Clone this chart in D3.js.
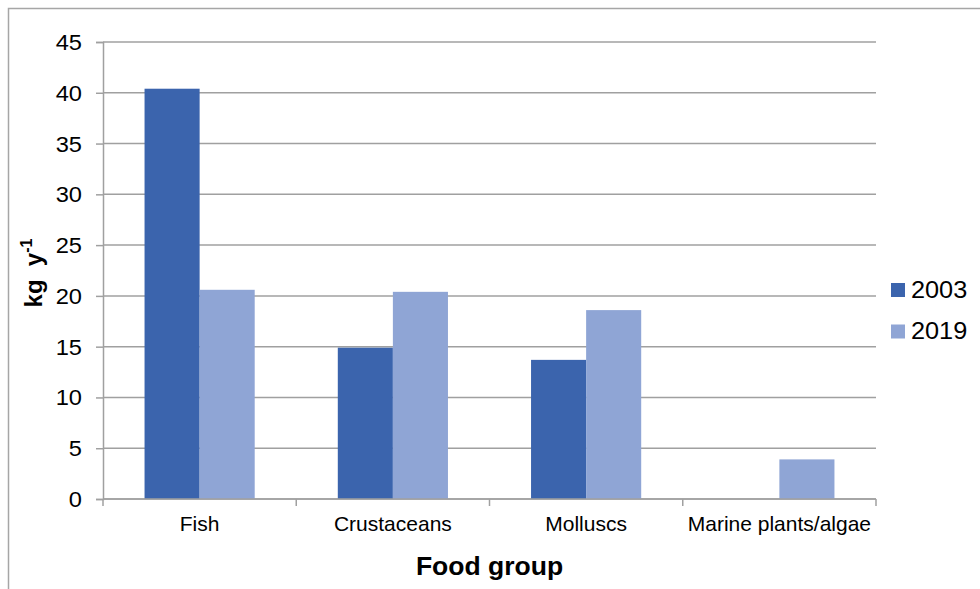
<!DOCTYPE html>
<html>
<head>
<meta charset="utf-8">
<script src="https://cdn.jsdelivr.net/npm/d3@7"></script>
<style>
  html, body { margin: 0; padding: 0; background: #fff; }
  svg { display: block; font-family: "Liberation Sans", Arial, sans-serif; }
</style>
</head>
<body>
<svg id="chart" width="980" height="589"></svg>
<script>
// Per-capita consumption by food group (kg per year)
const categories = ["Fish", "Crustaceans", "Molluscs", "Marine plants/algae"];
const seriesNames = ["2003", "2019"];
const values2003 = [40.4, 14.9, 13.7, 0];
const values2019 = [20.6, 20.4, 18.6, 3.9];
const yTicks = [0, 5, 10, 15, 20, 25, 30, 35, 40, 45];
const colors = ["#3b64ad", "#8fa5d5"];

const series = [values2003, values2019];

const svg = d3.select("#chart");
const W = 980, H = 589;
const margin = { left: 103, right: 104, top: 42, bottom: 90 };
const plotW = W - margin.left - margin.right;
const plotH = H - margin.top - margin.bottom;
const FONT = "Liberation Sans, Arial, sans-serif";
const numStretch = 1.1; // slightly wide numerals

// Outer chart frame (runs off the right/bottom edge)
svg.append("rect")
  .attr("x", 8.5).attr("y", 8.5)
  .attr("width", W + 20).attr("height", H + 20)
  .attr("fill", "none").attr("stroke", "#a6a6a6").attr("stroke-width", 1.5);

const g = svg.append("g").attr("transform", `translate(${margin.left},${margin.top})`);

const x0 = d3.scaleBand().domain(categories).range([0, plotW]).paddingInner(0).paddingOuter(0);
const groupPad = 0.43; // fraction of band left empty around each group
const x1 = d3.scaleBand().domain(seriesNames)
  .range([x0.bandwidth() * groupPad / 2, x0.bandwidth() * (1 - groupPad / 2)]);
const y = d3.scaleLinear().domain([0, 45]).range([plotH, 0]);

// Horizontal gridlines
g.append("g").selectAll("line").data(yTicks).join("line")
  .attr("x1", 0).attr("x2", plotW)
  .attr("y1", d => y(d)).attr("y2", d => y(d))
  .attr("stroke", "#a0a0a0").attr("stroke-width", 1.5);

// Bars
const groups = g.append("g").selectAll("g").data(categories).join("g")
  .attr("transform", d => `translate(${x0(d)},0)`);
groups.selectAll("rect")
  .data((c, i) => seriesNames.map((s, k) => ({ s, v: series[k][i], k })))
  .join("rect")
  .attr("x", d => x1(d.s))
  .attr("width", x1.bandwidth())
  .attr("y", d => y(d.v))
  .attr("height", d => plotH - y(d.v))
  .attr("fill", d => colors[d.k]);

// Y axis
const yAxis = g.append("g")
  .call(d3.axisLeft(y).tickValues(yTicks).tickSize(7).tickPadding(13).tickFormat(d3.format("d")));
yAxis.select(".domain").attr("stroke", "#a0a0a0").attr("stroke-width", 1.5);
yAxis.selectAll(".tick line").attr("stroke", "#a0a0a0").attr("stroke-width", 1.5);
yAxis.selectAll(".tick text")
  .attr("font-size", 21.5).attr("fill", "#000").attr("font-family", FONT)
  .attr("x", 0).attr("dy", "0.35em")
  .attr("transform", `translate(-21,0) scale(${numStretch},1)`);

// X axis: tick marks at category boundaries, labels centered in each band
const xAxisG = g.append("g").attr("transform", `translate(0,${plotH})`);
xAxisG.append("line").attr("x1", 0).attr("x2", plotW)
  .attr("stroke", "#a0a0a0").attr("stroke-width", 1.5);
const boundaries = categories.map(c => x0(c)).concat([plotW]);
xAxisG.selectAll("line.tk").data(boundaries).join("line").attr("class", "tk")
  .attr("x1", d => d).attr("x2", d => d).attr("y1", 0).attr("y2", 7)
  .attr("stroke", "#a0a0a0").attr("stroke-width", 1.5);
xAxisG.selectAll("text").data(categories).join("text")
  .attr("x", d => x0(d) + x0.bandwidth() / 2)
  .attr("y", 32)
  .attr("text-anchor", "middle")
  .attr("font-size", 21)
  .attr("fill", "#000")
  .text(d => d);

// Axis titles
svg.append("text")
  .attr("x", margin.left + plotW / 2).attr("y", 575)
  .attr("text-anchor", "middle").attr("font-size", 26.5).attr("font-weight", "bold")
  .text("Food group");

const yTitle = svg.append("text")
  .attr("transform", `translate(42,${273}) rotate(-90)`)
  .attr("text-anchor", "middle").attr("font-size", 24).attr("font-weight", "bold");
yTitle.append("tspan").text("kg\u00a0\u00a0y");
yTitle.append("tspan").attr("font-size", 16).attr("dy", -10).text("-1");

// Legend
const legend = svg.append("g").attr("transform", "translate(891,283)");
const li = legend.selectAll("g").data(seriesNames).join("g")
  .attr("transform", (d, i) => `translate(0,${i * 41.5})`);
li.append("rect").attr("width", 14).attr("height", 14).attr("fill", (d, i) => colors[i]);
li.append("text")
  .attr("transform", `translate(20,14.5) scale(${numStretch},1)`)
  .attr("font-size", 23).attr("fill", "#000").text(d => d);
</script>
</body>
</html>
